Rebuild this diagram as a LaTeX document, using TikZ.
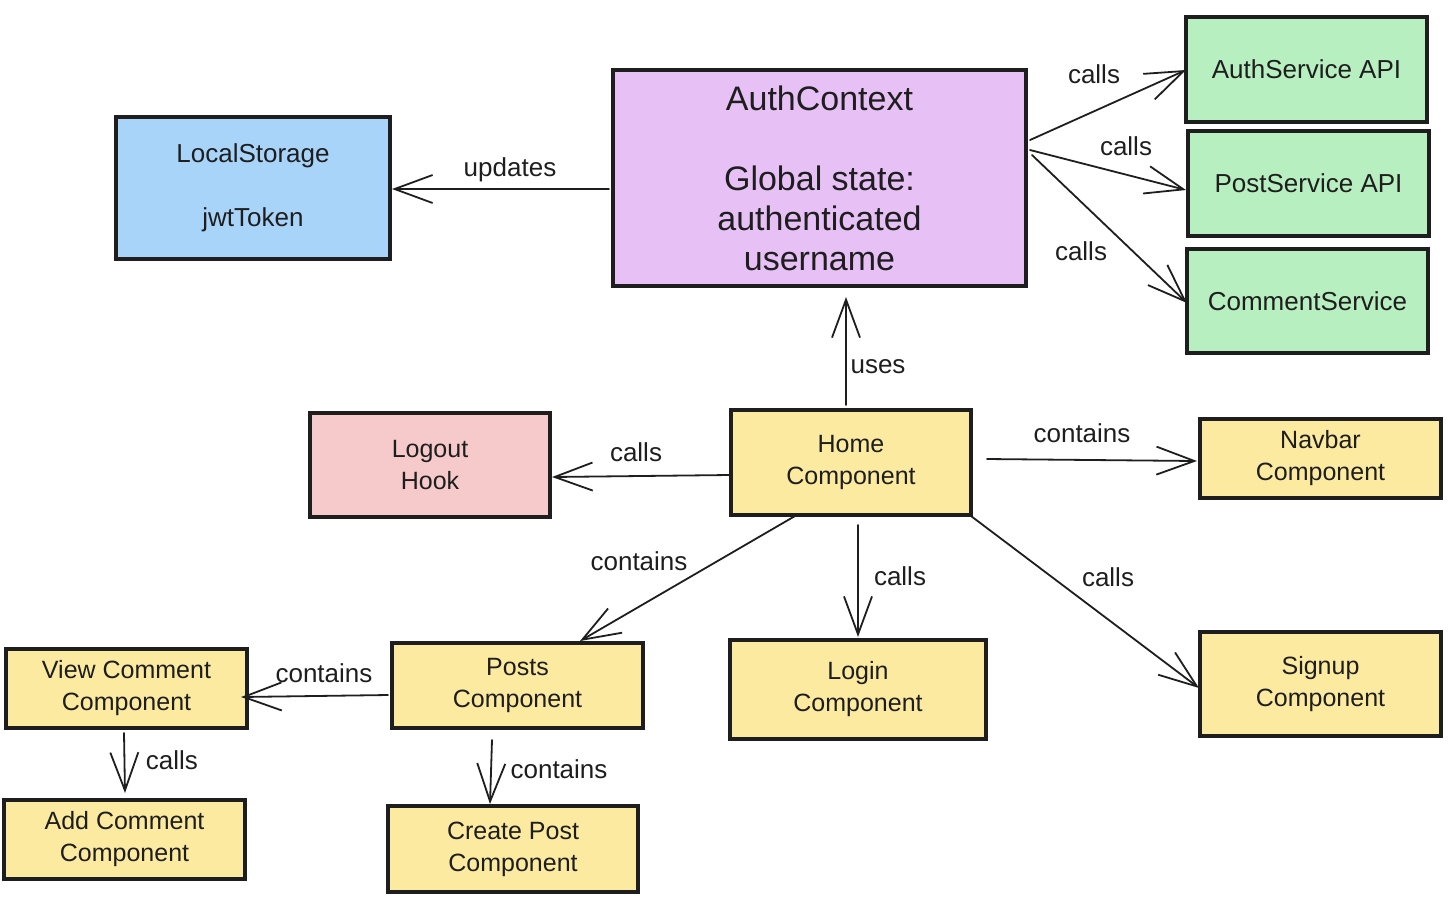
\documentclass[tikz,border=0pt]{standalone}
\usepackage{fontspec}
\setmainfont{Liberation Sans}
\usetikzlibrary{arrows.meta,calc}
\definecolor{ink}{HTML}{1E1E1E}
\definecolor{cblue}{HTML}{A9D4FA}
\definecolor{cpurple}{HTML}{E7C1F6}
\definecolor{cgreen}{HTML}{B8EFC0}
\definecolor{cred}{HTML}{F6CACA}
\definecolor{cyellow}{HTML}{FBEAA0}
\tikzset{
  box/.style={draw=ink, line width=1.6pt, inner sep=0pt, outer sep=0pt, align=center,
    text=ink, font=\fontsize{12.5}{16}\selectfont},
  arr/.style={draw=ink, line width=0.9pt, line join=round, line cap=round,
    -{Straight Barb[length=19pt,width=14pt,line width=0.9pt]}},
  lbl/.style={text=ink, inner sep=0pt, font=\fontsize{13}{16}\selectfont}
}
\begin{document}
\begin{tikzpicture}[x=0.5pt,y=-0.5pt]
\useasboundingbox (0,0) rectangle (1450,918);
% boxes
\node[box, fill=cblue, minimum width=137pt, minimum height=71pt, font=\fontsize{13}{16}\selectfont] (ls) at (253,188) {LocalStorage\\[16pt]jwtToken};
\node[box, fill=cpurple, minimum width=206.5pt, minimum height=108pt, font=\fontsize{17}{20}\selectfont] (ctx) at (819.5,178) {AuthContext\\[20pt]Global state:\\authenticated\\username};
\node[box, fill=cgreen, minimum width=120.5pt, minimum height=52.5pt, font=\fontsize{13}{16}\selectfont] (auth) at (1306.5,69.5) {AuthService API};
\node[box, fill=cgreen, minimum width=120.5pt, minimum height=52.5pt, font=\fontsize{13}{16}\selectfont] (post) at (1308.5,183.5) {PostService API};
\node[box, fill=cgreen, minimum width=120.5pt, minimum height=52pt, font=\fontsize{13}{16}\selectfont] (comm) at (1307.5,301) {CommentService};
\node[box, fill=cred, minimum width=120pt, minimum height=52pt] (logout) at (430,465) {Logout\\Hook};
\node[box, fill=cyellow, minimum width=120pt, minimum height=52.5pt] (home) at (851,462.5) {Home\\Component};
\node[box, fill=cyellow, minimum width=120.5pt, minimum height=39.5pt] (navbar) at (1320.5,458.5) {Navbar\\Component};
\node[box, fill=cyellow, minimum width=120.5pt, minimum height=39.5pt] (view) at (126.5,688.5) {View Comment\\Component};
\node[box, fill=cyellow, minimum width=125.5pt, minimum height=42.5pt] (posts) at (517.5,685.5) {Posts\\Component};
\node[box, fill=cyellow, minimum width=128pt, minimum height=49.5pt] (login) at (858,689.5) {Login\\Component};
\node[box, fill=cyellow, minimum width=120.5pt, minimum height=52pt] (signup) at (1320.5,684) {Signup\\Component};
\node[box, fill=cyellow, minimum width=120.5pt, minimum height=39.5pt] (add) at (124.5,839.5) {Add Comment\\Component};
\node[box, fill=cyellow, minimum width=125pt, minimum height=43pt] (create) at (513,849) {Create Post\\Component};
% connectors
\draw[arr] ($(ctx.west)+(-4,11)$) -- ($(ls.east)+(2,1)$);
\draw[arr] ($(ctx.east)+(4,-38)$) -- ($(auth.west)+(0,0.5)$);
\draw[arr] ($(ctx.east)+(4,-28)$) -- ($(post.west)+(-2,6.5)$);
\draw[arr] ($(ctx.east)+(6,-23)$) -- ($(comm.west)+(0,2)$);
\draw[arr] ($(home.north)+(-5,-5)$) -- ($(ctx.south)+(26.5,11)$);
\draw[arr] ($(home.west)+(-2,12.5)$) -- ($(logout.east)+(2,12)$);
\draw[arr] ($(home.east)+(16,-3.5)$) -- ($(navbar.west)+(-3,2.5)$);
\draw[arr] ($(home.south)+(-56,1)$) -- ($(posts.north)+(62.5,-2)$);
\draw[arr] ($(home.south)+(7,10)$) -- ($(login.north)+(0,-3)$);
\draw[arr] ($(home.south east)+(0,1)$) -- ($(signup.west)+(-1,4)$);
\draw[arr] ($(posts.west)+(-4,9.5)$) -- ($(view.east)+(-6,8.5)$);
\draw[arr] ($(view.south)+(-2.5,5)$) -- ($(add.north)+(0.5,-7)$);
\draw[arr] ($(posts.south)+(-25.5,12)$) -- ($(create.north)+(-23,-2)$);
% labels
\node[lbl] (l1) at (510,170) {updates};
\node[lbl] (l2) at (1094,74) {calls};
\node[lbl] (l3) at (1126,146) {calls};
\node[lbl] (l4) at (1081,251) {calls};
\node[lbl] (l5) at (878,367) {uses};
\node[lbl] (l6) at (636,452) {calls};
\node[lbl] (l7) at (1082,433) {contains};
\node[lbl] (l8) at (639,561) {contains};
\node[lbl] (l9) at (900,576) {calls};
\node[lbl] (l10) at (1108,577) {calls};
\node[lbl] (l11) at (324,673) {contains};
\node[lbl] (l12) at (172,760) {calls};
\node[lbl] (l13) at (559,769) {contains};
\end{tikzpicture}
\end{document}
